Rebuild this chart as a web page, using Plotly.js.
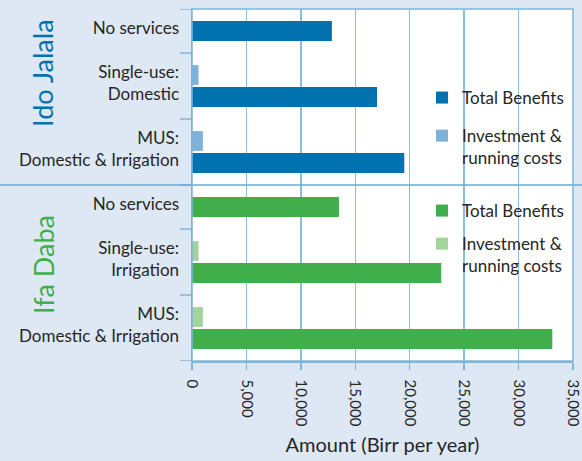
<!DOCTYPE html>
<html><head><meta charset="utf-8">
<script src="https://cdn.plot.ly/plotly-3.0.1.min.js"></script>
<style>html,body{margin:0;padding:0;background:#dde8f4;}#chart{width:582px;height:461px;}</style>
</head><body><div id="chart"></div>
<script>
// ---- data ----
const groupNames = ['Ido Jalala', 'Ifa Daba'];
const categoriesIdo = ['No services', 'Single-use:<br>Domestic', 'MUS:<br>Domestic & Irrigation'];
const benefitsIdo = [12850, 17000, 19500];
const costsIdo = [null, 600, 1000];
const categoriesIfa = ['No services', 'Single-use:<br>Irrigation', 'MUS:<br>Domestic & Irrigation'];
const benefitsIfa = [13500, 22900, 33100];
const costsIfa = [null, 600, 1000];
const seriesNames = ['Total Benefits', 'Investment &<br>running costs'];
const xTickVals = [0, 5000, 10000, 15000, 20000, 25000, 30000, 35000];
const xTitle = 'Amount (Birr per year)';

// ---- styles ----
const W = 582, H = 461, ML = 192, MR = 9, MT = 9, MB = 100;
const PW = W - ML - MR, PH = H - MT - MB;
const bg = '#dde8f4';
const lineCol = '#7fb5d9';
const textCol = '#262626';
const FONT = 'Lato, "Liberation Sans", sans-serif';
const panelColors = [
  {main: '#0072b0', light: '#7fb2da', label: '#0072b0'},
  {main: '#40ae4a', light: '#a4d39e', label: '#40ae4a'}
];
const px = v => (v - ML) / PW;          // pixel x -> paper
const py = v => (H - MB - v) / PH;      // pixel y -> paper

// slot layout: a category with a cost bar takes 3 slots, one without takes 2
function slotLayout(costs) {
  let start = 0; const inv = [], tot = [], lab = [], bounds = [0];
  costs.forEach(c => {
    const size = (c == null) ? 2 : 3;
    inv.push(start + 1); tot.push(start + size - 1); lab.push(start + size / 2 - 0.12);
    start += size; bounds.push(start);
  });
  return {inv, tot, lab, bounds, n: start};
}

const panels = [
  {cats: categoriesIdo, ben: benefitsIdo, cost: costsIdo, y: 'y', ax: 'yaxis', dom: [0.5, 1], leg: 'legend',
   legTop: 80, gap: 13, labelY: 73, boxes: [[88, 108], [125, 171]]},
  {cats: categoriesIfa, ben: benefitsIfa, cost: costsIfa, y: 'y2', ax: 'yaxis2', dom: [0, 0.5], leg: 'legend2',
   legTop: 193, gap: 8, labelY: 265, boxes: [[201, 221], [233, 279]]}
];

const data = [];
const layout = {
  width: W, height: H,
  margin: {l: ML, r: MR, t: MT, b: MB},
  paper_bgcolor: bg, plot_bgcolor: '#ffffff',
  font: {family: FONT, size: 17, color: textCol},
  barmode: 'overlay',
  showlegend: true,
  xaxis: {
    anchor: 'y2', range: [0, 35001], tickvals: xTickVals, tickformat: ',d',
    tickangle: 90, ticks: 'outside', ticklen: 7, tickcolor: lineCol, tickwidth: 1.5,
    ticklabelstandoff: 7, ticklabeloverflow: 'allow',
    showgrid: true, gridcolor: '#8cbfdd', gridwidth: 1.5, zeroline: false,
    showline: true, linecolor: lineCol, linewidth: 1.5,
    tickfont: {size: 15, color: textCol},
    title: {text: xTitle, font: {size: 20, color: textCol}, standoff: 12}
  },
  shapes: [], annotations: []
};

panels.forEach((p, i) => {
  const s = slotLayout(p.cost);
  const col = panelColors[i];
  data.push({
    type: 'bar', orientation: 'h', name: seriesNames[0], x: p.ben, y: s.tot,
    width: 0.9, marker: {color: col.main}, xaxis: 'x', yaxis: p.y,
    legend: p.leg, legendgroup: 'g' + i + 'a', hoverinfo: 'x'
  });
  data.push({
    type: 'bar', orientation: 'h', name: seriesNames[1], x: p.cost, y: s.inv,
    width: 0.9, marker: {color: col.light}, xaxis: 'x', yaxis: p.y,
    legend: p.leg, legendgroup: 'g' + i + 'b', hoverinfo: 'x'
  });
  layout[p.ax] = {
    domain: p.dom, anchor: 'x', range: [s.n, 0],
    tickvals: s.lab, ticktext: p.cats, ticks: '', ticklabelstandoff: 8,
    showgrid: false, zeroline: false, showline: true, linecolor: lineCol, linewidth: 1.5,
    tickfont: {size: 17, color: textCol}, fixedrange: true
  };
  // category separators (ticks outside on left)
  s.bounds.forEach(b => {
    layout.shapes.push({type: 'line', xref: 'paper', yref: p.y, x0: -12 / PW, x1: 0, y0: b, y1: b,
      line: {color: lineCol, width: 1.5}});
  });
  // white patches behind legend text (hide gridlines, not bars)
  p.boxes.forEach(b => {
    layout.shapes.push({type: 'rect', layer: 'between', xref: 'paper', yref: 'paper',
      x0: px(458), x1: px(568), y0: py(b[1]), y1: py(b[0]),
      line: {width: 0}, fillcolor: '#ffffff'});
  });
  // rotated group label
  layout.annotations.push({
    text: groupNames[i], xref: 'paper', yref: 'paper',
    x: px(43), y: py(p.labelY),
    textangle: -90, showarrow: false, font: {size: 27, color: col.label},
    xanchor: 'center', yanchor: 'middle'
  });
  layout[p.leg] = {
    x: px(422), xanchor: 'left',
    y: py(p.legTop), yanchor: 'top', yref: 'paper',
    bgcolor: 'rgba(0,0,0,0)', borderwidth: 0, valign: 'top',
    traceorder: 'grouped', tracegroupgap: p.gap,
    font: {size: 17, color: textCol}
  };
});

// divider between the two panels across the full width
layout.shapes.push({type: 'line', xref: 'paper', yref: 'paper', x0: -ML / PW, x1: (W - ML) / PW, y0: 0.5, y1: 0.5,
  line: {color: '#6fa8d2', width: 1.5}});
// plot frame
layout.shapes.push({type: 'rect', xref: 'paper', yref: 'paper', x0: 0, x1: 1, y0: 0, y1: 1,
  line: {color: lineCol, width: 1.5}, fillcolor: 'rgba(0,0,0,0)'});

Plotly.newPlot('chart', data, layout, {displayModeBar: false, staticPlot: true});
</script>
</body></html>
